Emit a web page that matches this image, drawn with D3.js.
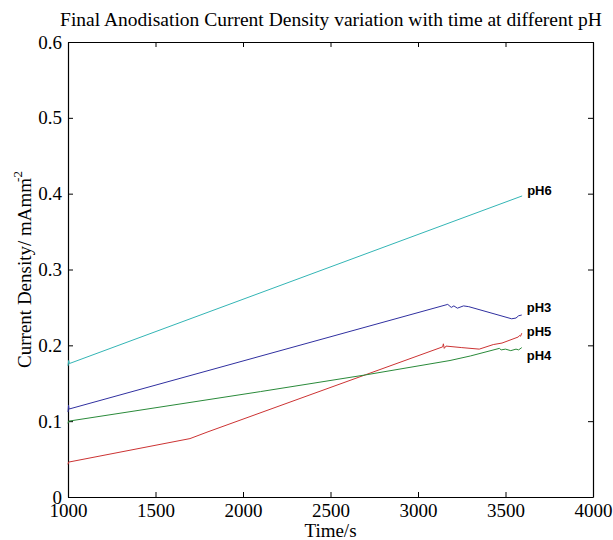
<!DOCTYPE html>
<html>
<head>
<meta charset="utf-8">
<script src="https://cdn.jsdelivr.net/npm/d3@7"></script>
<style>
  body { margin: 0; background: #fff; }
  svg { display: block; }
  .axis text { font-family: "Liberation Serif", "Times New Roman", serif; font-size: 19px; fill: #000; }
  .axis path, .axis line { stroke: #000; }
</style>
</head>
<body>
<div id="chart"></div>
<script>
const W = 613, H = 540;
const margin = { top: 42, right: 20, bottom: 43, left: 68 };
const width = W - margin.left - margin.right;
const height = H - margin.top - margin.bottom;

// readings: time (s) and current density
const ph6Time = [1000, 1004, 1008, 3595];
const ph6Value = [0.173, 0.180, 0.176, 0.397];

const ph3Time = [1000, 1003, 1006, 3170, 3190, 3205, 3225, 3260, 3290, 3535, 3560, 3575, 3593];
const ph3Value = [0.112, 0.121, 0.116, 0.254, 0.250, 0.252, 0.249, 0.252, 0.251, 0.235, 0.236, 0.239, 0.240];

const ph5Time = [1000, 1003, 1697, 1800, 3141, 3145, 3150, 3160, 3250, 3350, 3430, 3480, 3573, 3580, 3586, 3593];
const ph5Value = [0.043, 0.046, 0.077, 0.086, 0.198, 0.202, 0.196, 0.199, 0.197, 0.195, 0.201, 0.203, 0.211, 0.213, 0.212, 0.216];

const ph4Time = [1000, 1003, 2100, 2700, 3183, 3300, 3465, 3475, 3500, 3530, 3560, 3575, 3593];
const ph4Value = [0.097, 0.100, 0.139, 0.161, 0.180, 0.186, 0.196, 0.194, 0.195, 0.193, 0.195, 0.194, 0.197];

const seriesNames = ['pH6', 'pH3', 'pH5', 'pH4'];
const seriesColors = ['#33b5b5', '#3030a0', '#cc3333', '#2a8a3a'];
const labelValues = [0.404, 0.250, 0.218, 0.187];

const xTicks = [1000, 1500, 2000, 2500, 3000, 3500, 4000];
const yTicks = [0, 0.1, 0.2, 0.3, 0.4, 0.5, 0.6];

const series = [
  { name: seriesNames[0], t: ph6Time, v: ph6Value },
  { name: seriesNames[1], t: ph3Time, v: ph3Value },
  { name: seriesNames[2], t: ph5Time, v: ph5Value },
  { name: seriesNames[3], t: ph4Time, v: ph4Value }
];

const svg = d3.select('#chart').append('svg')
  .attr('width', W)
  .attr('height', H);

const g = svg.append('g')
  .attr('transform', `translate(${margin.left},${margin.top})`);

const x = d3.scaleLinear().domain([1000, 4000]).range([0, width]);
const y = d3.scaleLinear().domain([0, 0.6]).range([height, 0]);

// box with inward ticks on all sides (matlab style)
g.append('g').attr('class', 'axis')
  .attr('transform', `translate(0,${height})`)
  .call(d3.axisBottom(x).tickValues(xTicks).tickSizeInner(-5).tickSizeOuter(0).tickPadding(7).tickFormat(d3.format('d')));
g.append('g').attr('class', 'axis')
  .call(d3.axisTop(x).tickValues(xTicks).tickSizeInner(-5).tickSizeOuter(0).tickFormat(''));
g.append('g').attr('class', 'axis')
  .call(d3.axisLeft(y).tickValues(yTicks).tickSizeInner(-5).tickSizeOuter(0).tickPadding(6).tickFormat(d => d === 0 ? '0' : d3.format('.1f')(d)));
g.append('g').attr('class', 'axis')
  .attr('transform', `translate(${width},0)`)
  .call(d3.axisRight(y).tickValues(yTicks).tickSizeInner(-5).tickSizeOuter(0).tickFormat(''));

g.selectAll('.axis .domain').attr('stroke-width', 1.2);

const line = d3.line()
  .x(d => x(d[0]))
  .y(d => y(d[1]));

series.forEach((s, i) => {
  const pts = s.t.map((t, k) => [t, s.v[k]]);
  g.append('path')
    .datum(pts)
    .attr('fill', 'none')
    .attr('stroke', seriesColors[i])
    .attr('stroke-width', 1)
    .attr('d', line);

  const last = s.t[s.t.length - 1];
  g.append('text')
    .attr('x', x(last) + 5)
    .attr('y', y(labelValues[i]))
    .attr('dy', '0.35em')
    .attr('font-family', 'Liberation Sans, Arial, sans-serif')
    .attr('font-weight', 'bold')
    .attr('font-size', 13)
    .text(s.name);
});

// title
svg.append('text')
  .attr('x', 331)
  .attr('y', 26)
  .attr('text-anchor', 'middle')
  .attr('font-family', 'Liberation Serif, Times New Roman, serif')
  .attr('font-size', 19.5)
  .text('Final Anodisation Current Density variation with time at different pH');

// x label
svg.append('text')
  .attr('x', margin.left + width / 2)
  .attr('y', 537)
  .attr('text-anchor', 'middle')
  .attr('font-family', 'Liberation Serif, Times New Roman, serif')
  .attr('font-size', 19)
  .text('Time/s');

// y label
const yl = svg.append('text')
  .attr('transform', `translate(31,${margin.top + height / 2}) rotate(-90)`)
  .attr('text-anchor', 'middle')
  .attr('font-family', 'Liberation Serif, Times New Roman, serif')
  .attr('font-size', 19);
yl.append('tspan').text('Current Density/ mAmm');
yl.append('tspan').attr('dy', -9).attr('dx', -4).attr('font-size', 13).text('-2');
</script>
</body>
</html>
